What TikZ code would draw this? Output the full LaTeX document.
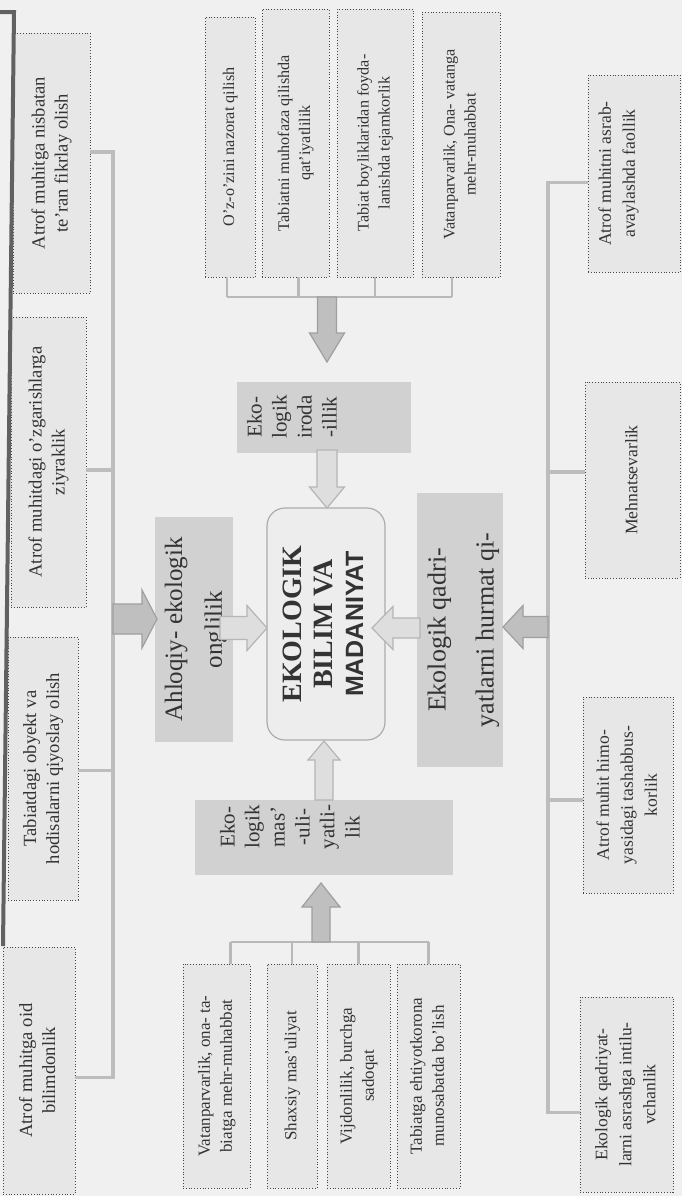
\documentclass[tikz,border=0pt]{standalone}
\usepackage{fontspec}
\setmainfont{Liberation Serif}
\newfontfamily\sansbold{Liberation Sans}
\usepackage{graphicx}
\usetikzlibrary{fit,calc}
\newcommand\rtx[1]{\rotatebox{90}{\begin{tabular}{@{}c@{}}#1\end{tabular}}}
% style, from, to, shaft half width, head half width, head length
\newcommand\blockarr[6]{%
  \path ($(#3)!#6!(#2)$) coordinate (bah);
  \draw[#1] ($(#2)!#4!90:(#3)$) -- ($(bah)!#4!90:(#3)$) -- ($(bah)!#5!90:(#3)$)
    -- (#3) -- ($(bah)!#5!-90:(#3)$) -- ($(bah)!#4!-90:(#3)$) -- ($(#2)!#4!-90:(#3)$) -- cycle;}
\begin{document}
\begin{tikzpicture}[x=0.5pt,y=-0.5pt,
  box/.style={inner sep=0pt, outer sep=0pt, fill=gray!19, draw=gray!55!black, densely dotted, line width=0.4pt},
  mbox/.style={inner sep=0pt, outer sep=0pt, fill=gray!36},
  cbox/.style={inner sep=0pt, outer sep=0pt, fill=gray!14, draw=gray!65, rounded corners=9pt, line width=0.6pt},
  tx/.style={inner sep=0pt, outer sep=0pt, text=black!80},
  fL/.style={tx, font=\fontsize{9.3}{11.5}\selectfont},
  fT/.style={tx, font=\fontsize{8.1}{10.5}\selectfont},
  fR/.style={tx, font=\fontsize{8.8}{12}\selectfont},
  fB/.style={tx, font=\fontsize{8.5}{11}\selectfont},
  fA/.style={tx, font=\fontsize{12.5}{20}\selectfont},
  fQ/.style={tx, font=\fontsize{13}{24}\selectfont},
  fE/.style={tx, font=\fontsize{10.5}{12.5}\selectfont},
  fC/.style={tx, font=\fontsize{14}{15.5}\selectfont},
  bus/.style={draw=gray!52, line width=1.8pt},
  brk/.style={draw=gray!55, line width=1.2pt},
  frame/.style={draw=black!62, line width=2pt},
  darr/.style={fill=gray!50, draw=gray!75, line width=0.6pt, line join=miter},
  larr/.style={fill=gray!26, draw=gray!58, line width=0.6pt, line join=miter}
]
\fill[gray!12] (0,0) rectangle (682,1196);
\useasboundingbox (0,0) rectangle (682,1196);

% bus coordinates
\coordinate (lb) at (113,0);
\coordinate (rb) at (548,0);
\coordinate (tb) at (0,297);
\coordinate (bb) at (0,942);

% left column
\node[box, fit={(13,33)(90,293)}] (L1) {};
\node[box, fit={(11,317)(86,607)}] (L2) {};
\node[box, fit={(8,637)(78,900)}] (L3) {};
\node[box, fit={(3,947)(75,1194)}] (L4) {};
\node[fL] (L1t) at (L1.center) {\rtx{Atrof muhitga nisbatan\\te'ran fikrlay olish}};
\node[fL] (L2t) at (L2.center) {\rtx{Atrof muhitdagi o'zgarishlarga\\ziyraklik}};
\node[fL] (L3t) at (L3.center) {\rtx{Tabiatdagi obyekt va\\hodisalarni qiyoslay olish}};
\node[fL] (L4t) at (L4.center) {\rtx{Atrof muhitga oid\\bilimdonlik}};
\draw[frame] (0,12) -- (14,12) -- (3,946);

% top row
\node[box, fit={(205,17)(255,277)}] (T1) {};
\node[box, fit={(262,9)(329,277)}] (T2) {};
\node[box, fit={(337,9)(413,277)}] (T3) {};
\node[box, fit={(422,12)(500,277)}] (T4) {};
\node[fT] (T1t) at (T1.center) {\rtx{O'z-o'zini nazorat qilish}};
\node[fT] (T2t) at (T2.center) {\rtx{Tabiatni muhofaza qilishda\\qat'iyatlilik}};
\node[fT] (T3t) at (T3.center) {\rtx{Tabiat boyliklaridan foyda-\\lanishda tejamkorlik}};
\node[fT] (T4t) at (T4.center) {\rtx{Vatanparvarlik, Ona- vatanga\\mehr-muhabbat}};

% right column
\node[box, fit={(588,75)(680,272)}] (R1) {};
\node[box, fit={(585,382)(680,578)}] (R2) {};
\node[box, fit={(583,697)(673,893)}] (R3) {};
\node[box, fit={(580,997)(673,1192)}] (R4) {};
\node[fR] (R1t) at ([xshift=-8pt]R1.center) {\rtx{Atrof muhitni asrab-\\avaylashda faollik}};
\node[fR] (R2t) at (R2.center) {\rtx{Mehnatsevarlik}};
\node[fR] (R3t) at (R3.center) {\rtx{Atrof muhit himo-\\yasidagi tashabbus-\\korlik}};
\node[fR] (R4t) at (R4.center) {\rtx{Ekologik qadriyat-\\larni asrashga intilu-\\vchanlik}};

% bottom row
\node[box, fit={(183,964)(250,1188)}] (B1) {};
\node[box, fit={(267,964)(317,1188)}] (B2) {};
\node[box, fit={(327,964)(390,1188)}] (B3) {};
\node[box, fit={(397,964)(460,1188)}] (B4) {};
\node[fB] (B1t) at (B1.center) {\rtx{Vatanparvarlik, ona- ta-\\biatga mehr-muhabbat}};
\node[fB] (B2t) at (B2.center) {\rtx{Shaxsiy mas'uliyat}};
\node[fB] (B3t) at (B3.center) {\rtx{Vijdonlilik, burchga\\sadoqat}};
\node[fB] (B4t) at (B4.center) {\rtx{Tabiatga ehtiyotkorona\\munosabatda bo'lish}};

% middle boxes
\node[mbox, fit={(155,517)(233,742)}] (A) {};
\node[fA] (At) at (A.center) {\rtx{Ahloqiy- ekologik\\onglilik}};
\node[mbox, fit={(417,493)(503,767)}] (Q) {};
\node[fQ] (Qt) at (Q.center) {\rtx{Ekologik qadri-\\yatlarni hurmat qi-}};
\node[mbox, fit={(237,382)(411,453)}] (I) {};
\node[fE] (It) at (294,417) {\rtx{Eko-\\logik\\iroda\\-illik}};
\node[mbox, fit={(195,800)(453,875)}] (M) {};
\node[fE] (Mt) at (292,827) {\rtx{Eko-\\logik\\mas'\\-uli-\\yatli-\\lik}};
\node[cbox, fit={(267,508)(385,740)}] (C) {};
\node[fC] (Ct) at (C.center) {\rotatebox{90}{\begin{tabular}{@{}c@{}}\bfseries EKOLOGIK\\\bfseries BILIM VA\\\fontsize{12.5}{15.5}\sansbold\bfseries MADANIYAT\end{tabular}}};

% left bus
\draw[bus] ([yshift=5.5pt]L1.east) -- ([yshift=5.5pt]L1.east -| lb) -- ([yshift=-3.5pt]L4.east -| lb) -- ([yshift=-3.5pt]L4.east);
\draw[bus] ([yshift=-4pt]L2.east) -- ([yshift=-4pt]L2.east -| lb);
\draw[bus] ([yshift=-1pt]L3.east) -- ([yshift=-1pt]L3.east -| lb);
% right bus
\draw[bus] ([yshift=-4.5pt]R1.west) -- ([yshift=-4.5pt]R1.west -| rb) -- ([yshift=-9pt]R4.west -| rb) -- ([yshift=-9pt]R4.west);
\draw[bus] ([yshift=4pt]R2.west) -- ([yshift=4pt]R2.west -| rb);
\draw[bus] ([yshift=-2.5pt]R3.west) -- ([yshift=-2.5pt]R3.west -| rb);
% top bracket
\draw[brk] ([xshift=-1.5pt]T1.south |- tb) -- ([xshift=-4.5pt]T4.south |- tb);
\draw[brk] ([xshift=-1.5pt]T1.south) -- ([xshift=-1.5pt]T1.south |- tb);
\draw[brk] ([xshift=1.5pt]T2.south) -- ([xshift=1.5pt]T2.south |- tb);
\draw[brk] (T3.south) -- (T3.south |- tb);
\draw[brk] ([xshift=-4.5pt]T4.south) -- ([xshift=-4.5pt]T4.south |- tb);
% bottom bracket
\draw[brk] ([xshift=7pt]B1.north |- bb) -- (B4.north |- bb);
\draw[brk] ([xshift=7pt]B1.north) -- ([xshift=7pt]B1.north |- bb);
\foreach \b in {B2,B3,B4} \draw[brk] (\b.north) -- (\b.north |- bb);

% block arrows
\coordinate (la1) at (113,619); \coordinate (la2) at (157,619);
\blockarr{darr}{la1}{la2}{7.5pt}{14.5pt}{7.5pt}
\coordinate (lc1) at (220,628); \coordinate (lc2) at (267,628);
\blockarr{larr}{lc1}{lc2}{5.75pt}{11.25pt}{10pt}
\coordinate (rc1) at (420,628); \coordinate (rc2) at (372,628);
\blockarr{larr}{rc1}{rc2}{5pt}{10.75pt}{10.5pt}
\coordinate (ra1) at (548,627); \coordinate (ra2) at (503,627);
\blockarr{darr}{ra1}{ra2}{5.25pt}{10.75pt}{10pt}
\coordinate (ta1) at (327,297); \coordinate (ta2) at (327,362);
\blockarr{darr}{ta1}{ta2}{4.75pt}{8.75pt}{14.5pt}
\coordinate (tc1) at (327,450); \coordinate (tc2) at (327,508);
\blockarr{larr}{tc1}{tc2}{5pt}{8.75pt}{10.5pt}
\coordinate (ba1) at (321,942); \coordinate (ba2) at (321,883);
\blockarr{darr}{ba1}{ba2}{4.5pt}{9.5pt}{12pt}
\coordinate (bc1) at (324,800); \coordinate (bc2) at (324,741);
\blockarr{larr}{bc1}{bc2}{4.5pt}{8pt}{9.5pt}
\end{tikzpicture}
\end{document}
